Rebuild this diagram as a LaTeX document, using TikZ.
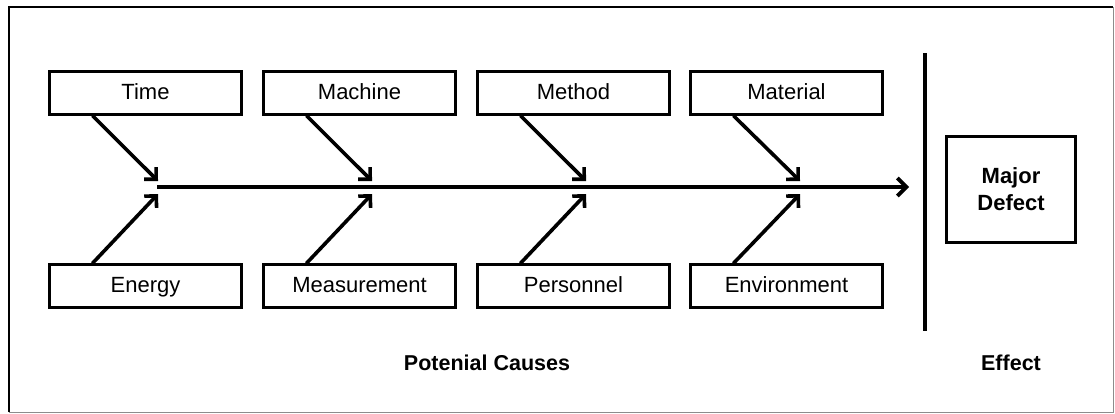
\documentclass[tikz,border=0pt]{standalone}
\usepackage{fontspec}
\setmainfont{Liberation Sans}
\usepackage{tikz}
\usetikzlibrary{arrows.meta,positioning}

\begin{document}
\begin{tikzpicture}[
  x=1pt, y=-1pt,
  cause/.style={
    draw,
    line width=2.2pt,
    minimum width=192pt,
    minimum height=43pt,
    inner sep=0pt,
    text height=16pt,
    text depth=4pt,
    font=\fontsize{22}{26}\selectfont
  },
  effectbox/.style={
    draw,
    line width=2.2pt,
    minimum width=129pt,
    minimum height=106pt,
    align=center,
    font=\fontsize{22}{27}\selectfont\bfseries
  },
  caption/.style={font=\fontsize{21.5}{25}\selectfont\bfseries},
  bone/.style={-{Straight Barb[length=8.5pt,width=17pt,line width=3.6pt]}, line width=3.6pt},
  spine/.style={-{Straight Barb[length=9pt,width=18pt,line width=3.8pt]}, line width=3.8pt}
]

\useasboundingbox (0,0) rectangle (1115,413);

% frame
\draw[black!45, line width=1pt] (1113,7) -- (1113,412) -- (9,412);
\draw[line width=2.8pt] (9,412) -- (9,7) -- (1113,7);

% causes, upper row
\node[cause] (time) at (145.5,93) {Time};
\node[cause] (machine) at (359.5,93) {Machine};
\node[cause] (method) at (573.5,93) {Method};
\node[cause] (material) at (786.5,93) {Material};

% causes, lower row
\node[cause] (energy) at (145.5,286) {Energy};
\node[cause] (measurement) at (359.5,286) {Measurement};
\node[cause] (personnel) at (573.5,286) {Personnel};
\node[cause] (environment) at (786.5,286) {Environment};

% spine
\coordinate (head) at (157,187);
\coordinate (tail) at (909,187);
\draw[spine] (head) -- (tail);

\coordinate (t1) at (158,181);
\coordinate (t2) at (372,181);
\coordinate (t3) at (586,181);
\coordinate (t4) at (800,181);
\coordinate (b1) at (158,194);
\coordinate (b2) at (372,194);
\coordinate (b3) at (586,194);
\coordinate (b4) at (800,194);

\draw[bone] ([xshift=44pt]time.south west) -- (t1);
\draw[bone] ([xshift=44pt]machine.south west) -- (t2);
\draw[bone] ([xshift=44pt]method.south west) -- (t3);
\draw[bone] ([xshift=44pt]material.south west) -- (t4);
\draw[bone] ([xshift=44pt]energy.north west) -- (b1);
\draw[bone] ([xshift=44pt]measurement.north west) -- (b2);
\draw[bone] ([xshift=44pt]personnel.north west) -- (b3);
\draw[bone] ([xshift=44pt]environment.north west) -- (b4);

% effect side
\coordinate (bartop) at (925,53);
\coordinate (barbot) at (925,331);
\draw[line width=4pt] (bartop) -- (barbot);

\node[effectbox] (defect) at (1011,189.5) {Major\\Defect};

\node[caption] (causes) at (487,363) {Potenial Causes};
\node[caption] (effect) at (1011,363) {Effect};

\end{tikzpicture}
\end{document}
